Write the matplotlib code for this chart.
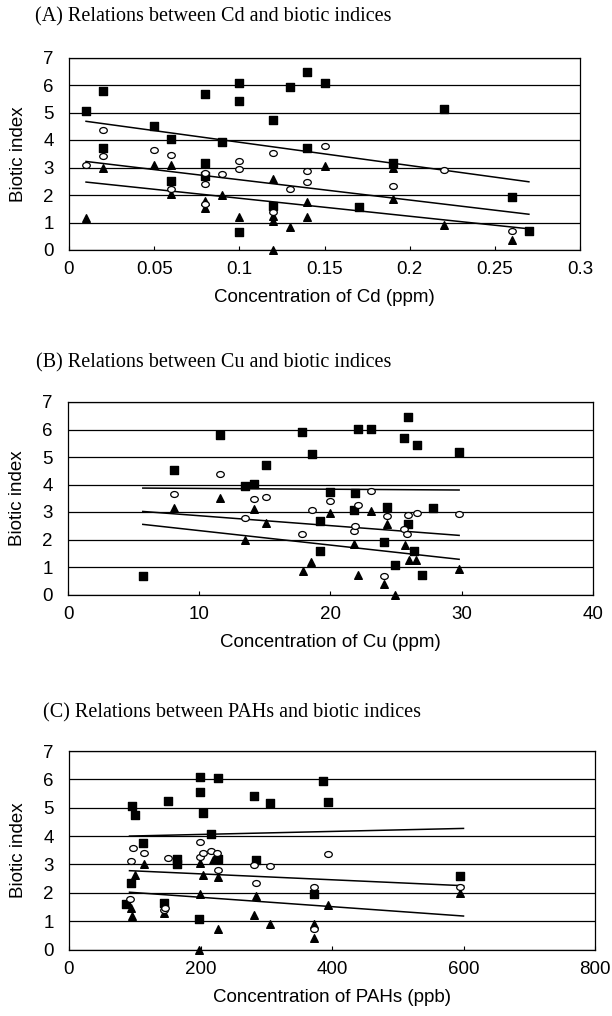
import numpy as np
import matplotlib.pyplot as plt
from matplotlib.path import Path

# ---- (A) Cd ----
cd_sq_x = [0.01, 0.02, 0.02, 0.05, 0.06, 0.06, 0.08, 0.08, 0.08, 0.09, 0.10, 0.10,
           0.10, 0.12, 0.12, 0.13, 0.14, 0.14, 0.15, 0.17, 0.19, 0.22, 0.26, 0.27]
cd_sq_y = [5.05, 5.78, 3.72, 4.51, 4.04, 2.52, 5.69, 3.17, 2.68, 3.92, 6.07, 5.42,
           0.67, 4.73, 1.61, 5.93, 6.46, 3.71, 6.08, 1.58, 3.15, 5.13, 1.92, 0.69]
cd_ci_x = [0.01, 0.02, 0.02, 0.05, 0.06, 0.06, 0.08, 0.08, 0.08, 0.09, 0.10,
           0.10, 0.12, 0.12, 0.13, 0.14, 0.14, 0.15, 0.19, 0.22, 0.26]
cd_ci_y = [3.08, 4.38, 3.41, 3.62, 3.47, 2.22, 2.80, 2.40, 1.68, 2.76, 3.23,
           2.96, 3.53, 1.38, 2.22, 2.89, 2.47, 3.78, 2.31, 2.91, 0.69]
cd_tr_x = [0.01, 0.02, 0.05, 0.06, 0.06, 0.08, 0.08, 0.09, 0.10, 0.12, 0.12,
           0.12, 0.12, 0.13, 0.14, 0.14, 0.15, 0.19, 0.19, 0.22, 0.26]
cd_tr_y = [1.16, 2.99, 3.10, 3.10, 2.03, 1.77, 1.52, 2.00, 1.19, 2.58, 1.22,
           1.06, 0.00, 0.85, 1.74, 1.19, 3.04, 2.98, 1.87, 0.91, 0.36]
cd_fit_x = [0.01, 0.27]
cd_fit_sq = [4.68, 2.48]
cd_fit_ci = [3.22, 1.30]
cd_fit_tr = [2.47, 0.77]

# ---- (B) Cu ----
cu_sq_x = [5.7, 8.1, 11.6, 13.5, 14.2, 15.1, 17.8, 18.6, 19.2, 19.2, 20.0, 21.8, 21.9,
           22.1, 23.1, 24.1, 24.3, 24.9, 25.6, 25.9, 25.9, 26.4, 26.6, 27.0, 27.8, 29.8]
cu_sq_y = [0.67, 4.51, 5.79, 3.93, 4.03, 4.70, 5.91, 5.10, 2.69, 1.58, 3.73, 3.09, 3.69,
           6.03, 6.03, 1.91, 3.20, 1.08, 5.70, 6.47, 2.56, 1.60, 5.43, 0.72, 3.15, 5.18]
cu_ci_x = [8.1, 11.6, 13.5, 14.2, 15.1, 17.8, 18.6, 20.0, 21.8, 21.9,
           22.1, 23.1, 24.1, 24.3, 25.6, 25.8, 25.9, 26.6, 29.8]
cu_ci_y = [3.64, 4.39, 2.79, 3.46, 3.54, 2.21, 3.09, 3.39, 2.31, 2.48,
           3.24, 3.77, 0.69, 2.84, 2.39, 2.20, 2.90, 2.98, 2.94]
cu_tr_x = [8.1, 11.6, 13.5, 14.2, 15.1, 17.9, 18.5, 20.0, 21.8,
           22.1, 23.1, 24.1, 24.3, 24.9, 25.7, 26.0, 26.5, 29.8]
cu_tr_y = [3.14, 3.52, 2.00, 3.12, 2.59, 0.87, 1.19, 2.97, 1.83,
           0.71, 3.02, 0.40, 2.58, 0.00, 1.79, 1.26, 1.26, 0.91]
cu_fit_x = [5.7, 29.8]
cu_fit_sq = [3.87, 3.80]
cu_fit_ci = [3.02, 2.15]
cu_fit_tr = [2.55, 1.28]

# ---- (C) PAHs ----
pah_sq_x = [87, 94, 96, 100, 113, 144, 150, 165, 165, 197, 199, 199,
            204, 216, 226, 226, 282, 284, 306, 372, 386, 394, 595]
pah_sq_y = [1.62, 2.33, 5.06, 4.75, 3.75, 1.64, 5.23, 3.18, 3.02, 1.09, 6.07, 5.57,
            4.80, 4.07, 6.05, 3.18, 5.41, 3.15, 5.15, 1.94, 5.93, 5.20, 2.60]
pah_ci_x = [93, 95, 98, 114, 145, 146, 151, 199, 199, 204,
            216, 225, 226, 282, 284, 306, 372, 372, 394, 595]
pah_ci_y = [1.78, 3.11, 3.57, 3.41, 1.39, 1.47, 3.21, 3.78, 3.27, 3.40,
            3.47, 3.39, 2.82, 2.97, 2.33, 2.94, 2.21, 0.71, 3.38, 2.22]
pah_tr_x = [94, 96, 100, 114, 145, 165, 197, 199, 199, 204,
            219, 226, 226, 282, 284, 306, 372, 372, 394, 595]
pah_tr_y = [1.47, 1.19, 2.62, 3.01, 1.30, 3.01, 0.00, 1.97, 3.06, 2.63,
            3.15, 2.56, 0.74, 1.23, 1.88, 0.89, 0.89, 0.42, 1.56, 2.00]
pah_fit_x = [92, 600]
pah_fit_sq = [4.00, 4.27]
pah_fit_ci = [2.78, 2.25]
pah_fit_tr = [2.02, 1.18]

titles = ["(A) Relations between Cd and biotic indices",
          "(B) Relations between Cu and biotic indices",
          "(C) Relations between PAHs and biotic indices"]
xlabels = ["Concentration of Cd (ppm)",
           "Concentration of Cu (ppm)",
           "Concentration of PAHs (ppb)"]
xticks = [[0, 0.05, 0.1, 0.15, 0.2, 0.25, 0.3],
          [0, 10, 20, 30, 40],
          [0, 200, 400, 600, 800]]
xticklabels = [["0", "0.05", "0.1", "0.15", "0.2", "0.25", "0.3"],
               ["0", "10", "20", "30", "40"],
               ["0", "200", "400", "600", "800"]]

panels = [
    (cd_sq_x, cd_sq_y, cd_ci_x, cd_ci_y, cd_tr_x, cd_tr_y,
     cd_fit_x, cd_fit_sq, cd_fit_ci, cd_fit_tr),
    (cu_sq_x, cu_sq_y, cu_ci_x, cu_ci_y, cu_tr_x, cu_tr_y,
     cu_fit_x, cu_fit_sq, cu_fit_ci, cu_fit_tr),
    (pah_sq_x, pah_sq_y, pah_ci_x, pah_ci_y, pah_tr_x, pah_tr_y,
     pah_fit_x, pah_fit_sq, pah_fit_ci, pah_fit_tr),
]

W, H = 612, 1016
# axes boxes in pixels: left, right, top, bottom
boxes = [(69, 580, 57.5, 250), (68, 593, 402, 594.5), (69, 595, 751, 949.5)]
title_pos = [(35, 17), (36, 363), (43, 713)]

# the open symbols in the scan are slightly flattened ellipses
circ = Path.unit_circle()
ellipse = Path(circ.vertices * [1.0, 0.78], circ.codes)

plt.rcParams['font.family'] = ['Liberation Sans', 'DejaVu Sans']
fig = plt.figure(figsize=(W / 100, H / 100), dpi=100)

for i, p in enumerate(panels):
    sx, sy, cx, cy, tx, ty, fx, fsq, fci, ftr = p
    l, r, t, b = boxes[i]
    ax = fig.add_axes([l / W, 1 - b / H, (r - l) / W, (b - t) / H])

    ax.plot(fx, fsq, color='black', lw=1.1, zorder=3)
    ax.plot(fx, fci, color='black', lw=1.1, zorder=3)
    ax.plot(fx, ftr, color='black', lw=1.1, zorder=3)

    ax.scatter(sx, sy, marker='s', s=26, color='black', zorder=4, clip_on=False)
    ax.scatter(tx, ty, marker='^', s=30, color='black', zorder=5, clip_on=False)
    ax.scatter(cx, cy, marker=ellipse, s=30, facecolor='white', edgecolor='black',
               linewidth=0.9, zorder=6, clip_on=False)

    ax.set_xlim(xticks[i][0], xticks[i][-1])
    ax.set_ylim(0, 7)
    ax.set_xticks(xticks[i])
    ax.set_xticklabels(xticklabels[i])
    ax.set_yticks(range(8))
    ax.grid(axis='y', color='black', lw=0.9)
    ax.set_axisbelow(True)
    for s in ax.spines.values():
        s.set_linewidth(0.9)
    ax.tick_params(axis='x', direction='in', length=3, width=0.8, pad=8, labelsize=13.5)
    ax.tick_params(axis='y', length=0, pad=11, labelsize=13.5)
    ax.set_xlabel(xlabels[i], fontsize=13.5, labelpad=8)
    ax.set_ylabel("Biotic index", fontsize=13.5, labelpad=12)

    tx_, ty_ = title_pos[i]
    fig.text(tx_ / W, 1 - ty_ / H, titles[i], family='Liberation Serif',
             fontsize=14.5, ha='left', va='center')

fig.savefig("out.png", dpi=100)
